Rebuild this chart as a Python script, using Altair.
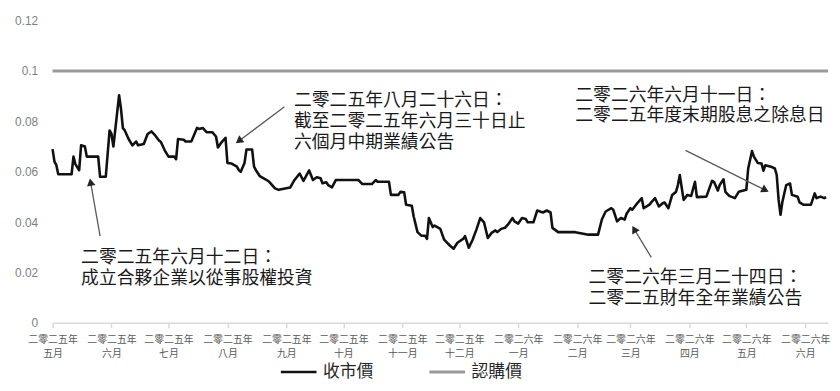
import altair as alt
import pandas as pd

# ---------------- data ----------------
close_dates = [
    "2025-05-01", "2025-05-02", "2025-05-03", "2025-05-04", "2025-05-11", "2025-05-12", "2025-05-13",
    "2025-05-15", "2025-05-16", "2025-05-18", "2025-05-19", "2025-05-25", "2025-05-26", "2025-05-29",
    "2025-05-31", "2025-06-01", "2025-06-02", "2025-06-05", "2025-06-06", "2025-06-07", "2025-06-08",
    "2025-06-10", "2025-06-12", "2025-06-14", "2025-06-15", "2025-06-18", "2025-06-20", "2025-06-22",
    "2025-06-24", "2025-06-26", "2025-06-27", "2025-06-29", "2025-07-01", "2025-07-04", "2025-07-05",
    "2025-07-06", "2025-07-09", "2025-07-10", "2025-07-13", "2025-07-16", "2025-07-17", "2025-07-19",
    "2025-07-21", "2025-07-24", "2025-07-26", "2025-07-27", "2025-07-29", "2025-07-31", "2025-08-01",
    "2025-08-03", "2025-08-06", "2025-08-07", "2025-08-08", "2025-08-10", "2025-08-11", "2025-08-14",
    "2025-08-15", "2025-08-16", "2025-08-18", "2025-08-21", "2025-08-23", "2025-08-26", "2025-08-28",
    "2025-09-01", "2025-09-03", "2025-09-05", "2025-09-08", "2025-09-10", "2025-09-13", "2025-09-15",
    "2025-09-17", "2025-09-19", "2025-09-20", "2025-09-22", "2025-09-23", "2025-09-25", "2025-09-27",
    "2025-10-09", "2025-10-11", "2025-10-16", "2025-10-18", "2025-10-19", "2025-10-25", "2025-10-26",
    "2025-10-30", "2025-10-31", "2025-11-02", "2025-11-03", "2025-11-06", "2025-11-07", "2025-11-09",
    "2025-11-11", "2025-11-13", "2025-11-14", "2025-11-15", "2025-11-17", "2025-11-18", "2025-11-21",
    "2025-11-23", "2025-11-26", "2025-11-28", "2025-11-30", "2025-12-03", "2025-12-04", "2025-12-06",
    "2025-12-08", "2025-12-10", "2025-12-12", "2025-12-14", "2025-12-16", "2025-12-18", "2025-12-20",
    "2025-12-21", "2025-12-23", "2025-12-25", "2025-12-27", "2025-12-29", "2025-12-30", "2026-01-01",
    "2026-01-03", "2026-01-05", "2026-01-06", "2026-01-09", "2026-01-11", "2026-01-14", "2026-01-16",
    "2026-01-18", "2026-01-19", "2026-01-22", "2026-01-31", "2026-02-07", "2026-02-12", "2026-02-14",
    "2026-02-16", "2026-02-19", "2026-02-20", "2026-02-22", "2026-02-24", "2026-02-26", "2026-02-27",
    "2026-03-01", "2026-03-02", "2026-03-04", "2026-03-07", "2026-03-08", "2026-03-11", "2026-03-12",
    "2026-03-14", "2026-03-16", "2026-03-18", "2026-03-19", "2026-03-21", "2026-03-23", "2026-03-25",
    "2026-03-26", "2026-03-27", "2026-03-29", "2026-03-31", "2026-04-02", "2026-04-04", "2026-04-05",
    "2026-04-10", "2026-04-13", "2026-04-14", "2026-04-16", "2026-04-17", "2026-04-19", "2026-04-20",
    "2026-04-22", "2026-04-25", "2026-04-27", "2026-05-01", "2026-05-02", "2026-05-04", "2026-05-05",
    "2026-05-07", "2026-05-09", "2026-05-10", "2026-05-11", "2026-05-14", "2026-05-16", "2026-05-17",
    "2026-05-18", "2026-05-19", "2026-05-20", "2026-05-22", "2026-05-24", "2026-05-25", "2026-05-28",
    "2026-05-29", "2026-05-31", "2026-06-04", "2026-06-06", "2026-06-07", "2026-06-09", "2026-06-11",
    "2026-06-12",
]
close_values = [
    0.069, 0.064, 0.0626, 0.059, 0.059, 0.066, 0.063,
    0.0606, 0.0705, 0.070, 0.066, 0.066, 0.058, 0.058,
    0.0764, 0.075, 0.070, 0.0904, 0.085, 0.0773, 0.0764,
    0.073, 0.0705, 0.072, 0.0705, 0.071, 0.075, 0.076,
    0.0744, 0.0724, 0.0718, 0.0685, 0.066, 0.066, 0.065,
    0.073, 0.0727, 0.072, 0.072, 0.0774, 0.077, 0.0774,
    0.0757, 0.0757, 0.074, 0.0696, 0.0718, 0.0735, 0.0635,
    0.0633, 0.062, 0.0606, 0.060, 0.0635, 0.0688, 0.0688,
    0.062, 0.0606, 0.0583, 0.057, 0.056, 0.0534, 0.0528,
    0.0534, 0.0537, 0.0564, 0.0593, 0.0564, 0.0605, 0.0567,
    0.0578, 0.0574, 0.0554, 0.0558, 0.0547, 0.0538, 0.0567,
    0.0567, 0.0551, 0.0551, 0.0567, 0.056, 0.056, 0.0508,
    0.0508, 0.052, 0.0518, 0.0469, 0.0465, 0.0422, 0.036,
    0.0346, 0.0346, 0.0333, 0.0416, 0.038, 0.0386, 0.0373,
    0.033, 0.0307, 0.0294, 0.0318, 0.0333, 0.0344, 0.0298,
    0.033, 0.037, 0.0416, 0.0399, 0.0337, 0.0357, 0.0367,
    0.036, 0.0373, 0.0377, 0.0394, 0.0416, 0.0403, 0.0394,
    0.0416, 0.0412, 0.0399, 0.0399, 0.0446, 0.0438, 0.0446,
    0.0438, 0.0377, 0.036, 0.036, 0.035, 0.035, 0.041,
    0.0442, 0.0455, 0.0449, 0.0403, 0.0416, 0.041, 0.0433,
    0.0455, 0.0449, 0.0469, 0.0495, 0.0455, 0.0469, 0.0478,
    0.0495, 0.0462, 0.0475, 0.0478, 0.0455, 0.0508, 0.052,
    0.0547, 0.0587, 0.0488, 0.0508, 0.0504, 0.056, 0.0499,
    0.0501, 0.0564, 0.056, 0.0525, 0.0547, 0.057, 0.052,
    0.0504, 0.0495, 0.052, 0.0528, 0.0613, 0.0682, 0.066,
    0.0635, 0.0633, 0.0604, 0.0626, 0.062, 0.0613, 0.0587,
    0.0488, 0.0429, 0.0481, 0.0547, 0.0553, 0.0508, 0.0501,
    0.0478, 0.0469, 0.0469, 0.0514, 0.0495, 0.0501, 0.0495,
    0.0499,
]

subscription_dates = ["2025-05-01", "2026-06-13"]
subscription_values = [0.1, 0.1]

series_names = ["收市價", "認購價"]

year_labels = {2025: "二零二五年", 2026: "二零二六年"}
month_labels = ["一月", "二月", "三月", "四月", "五月", "六月",
                "七月", "八月", "九月", "十月", "十一月", "十二月"]
tick_months = [(2025, m) for m in range(5, 13)] + [(2026, m) for m in range(1, 7)]

y_ticks = [0, 0.02, 0.04, 0.06, 0.08, 0.1, 0.12]

ann_text = [
    ["二零二五年六月十二日：", "成立合夥企業以從事股權投資"],
    ["二零二五年八月二十六日：", "截至二零二五年六月三十日止", "六個月中期業績公告"],
    ["二零二六年六月十一日：", "二零二五年度末期股息之除息日"],
    ["二零二六年三月二十四日：", "二零二五財年全年業績公告"],
]
ann_date = ["2025-05-16", "2025-09-05", "2026-01-31", "2026-02-07"]
ann_value = [0.0293, 0.0916, 0.0938, 0.0214]

arrow_from_date = ["2025-05-26", "2025-08-31", "2026-03-30", "2026-03-12"]
arrow_from_value = [0.0344, 0.0858, 0.0685, 0.026]
arrow_to_date = ["2025-05-21", "2025-08-07", "2026-05-11", "2026-03-03"]
arrow_to_value = [0.0559, 0.0722, 0.0527, 0.0372]
arrow_angle = [350, 233, 117, 331]

# ---------------- tables ----------------
lines_df = pd.DataFrame({
    "date": close_dates + subscription_dates,
    "value": close_values + subscription_values,
    "series": [series_names[0]] * len(close_dates) + [series_names[1]] * len(subscription_dates),
})
ann_df = pd.DataFrame({"date": ann_date, "value": ann_value, "lines": ann_text})
arrow_df = pd.DataFrame({
    "d1": arrow_from_date, "v1": arrow_from_value,
    "d2": arrow_to_date, "v2": arrow_to_value, "angle": arrow_angle,
})

# ---------------- styling ----------------
CJK = "Noto Sans CJK TC"
W, H = 783, 305

x_scale = alt.Scale(
    type="utc",
    domain=[alt.DateTime(year=2025, month=5, date=1, utc=True),
            alt.DateTime(year=2026, month=6, date=13, utc=True)],
)
y_scale = alt.Scale(domain=[0, 0.12], nice=False)

month_js = "[" + ",".join("'" + m + "'" for m in month_labels) + "]"
label_expr = (
    "[utcyear(datum.value) == 2025 ? '" + year_labels[2025] + "' : '" + year_labels[2026] + "', "
    + month_js + "[utcmonth(datum.value)]]"
)

x_axis = alt.Axis(
    values=[alt.DateTime(year=y, month=m, date=1, utc=True) for y, m in tick_months],
    labelExpr=label_expr,
    title=None, grid=False,
    domainColor="#d9d9d9", domainWidth=1.5,
    tickColor="#d9d9d9", tickSize=5, tickWidth=1.5,
    labelFont=CJK, labelFontSize=10, labelColor="#595959",
    labelLineHeight=14, labelPadding=7, labelAngle=0,
    labelAlign="center", labelBaseline="top", labelOverlap=False,
)
y_axis = alt.Axis(
    values=y_ticks, labelExpr="format(datum.value, '.2~f')", title=None, grid=False,
    domain=False, ticks=False,
    labelFont="Liberation Sans", labelFontSize=12, labelColor="#7f7f7f",
    labelPadding=15,
)

lines = alt.Chart(lines_df).mark_line(interpolate="linear", strokeJoin="round").encode(
    x=alt.X("date:T", scale=x_scale, axis=x_axis),
    y=alt.Y("value:Q", scale=y_scale, axis=y_axis),
    color=alt.Color(
        "series:N",
        scale=alt.Scale(domain=series_names, range=["#111111", "#9a9a9a"]),
        legend=alt.Legend(
            title=None, orient="none", direction="horizontal",
            legendX=229, legendY=335,
            symbolType="stroke", symbolSize=1296, symbolStrokeWidth=3.5,
            labelFont=CJK, labelFontSize=17, labelColor="#262626",
            labelOffset=5, columnPadding=50, padding=0,
        ),
    ),
    strokeWidth=alt.StrokeWidth(
        "series:N", scale=alt.Scale(domain=series_names, range=[2.6, 3]), legend=None
    ),
)

arrows = alt.Chart(arrow_df).mark_rule(color="#595959", strokeWidth=1.3).encode(
    x=alt.X("d1:T", scale=x_scale), x2="d2:T",
    y=alt.Y("v1:Q", scale=y_scale), y2="v2:Q",
)
heads = alt.Chart(arrow_df).mark_point(
    shape="triangle-up", filled=True, color="#262626", size=75, opacity=1
).encode(
    x=alt.X("d2:T", scale=x_scale),
    y=alt.Y("v2:Q", scale=y_scale),
    angle=alt.Angle("angle:Q", scale=None),
)
texts = alt.Chart(ann_df).mark_text(
    align="left", baseline="top", font=CJK, fontSize=18, lineHeight=21, color="#1a1a1a"
).encode(
    x=alt.X("date:T", scale=x_scale),
    y=alt.Y("value:Q", scale=y_scale),
    text="lines",
)

chart = alt.layer(lines, arrows, heads, texts).properties(
    width=W, height=H,
    autosize=alt.AutoSizeParams(type="none"),
    padding={"left": 45, "top": 11, "right": 4, "bottom": 59},
).configure_view(stroke=None)

chart.save("out.html", embed_options={"renderer": "svg", "actions": False})
